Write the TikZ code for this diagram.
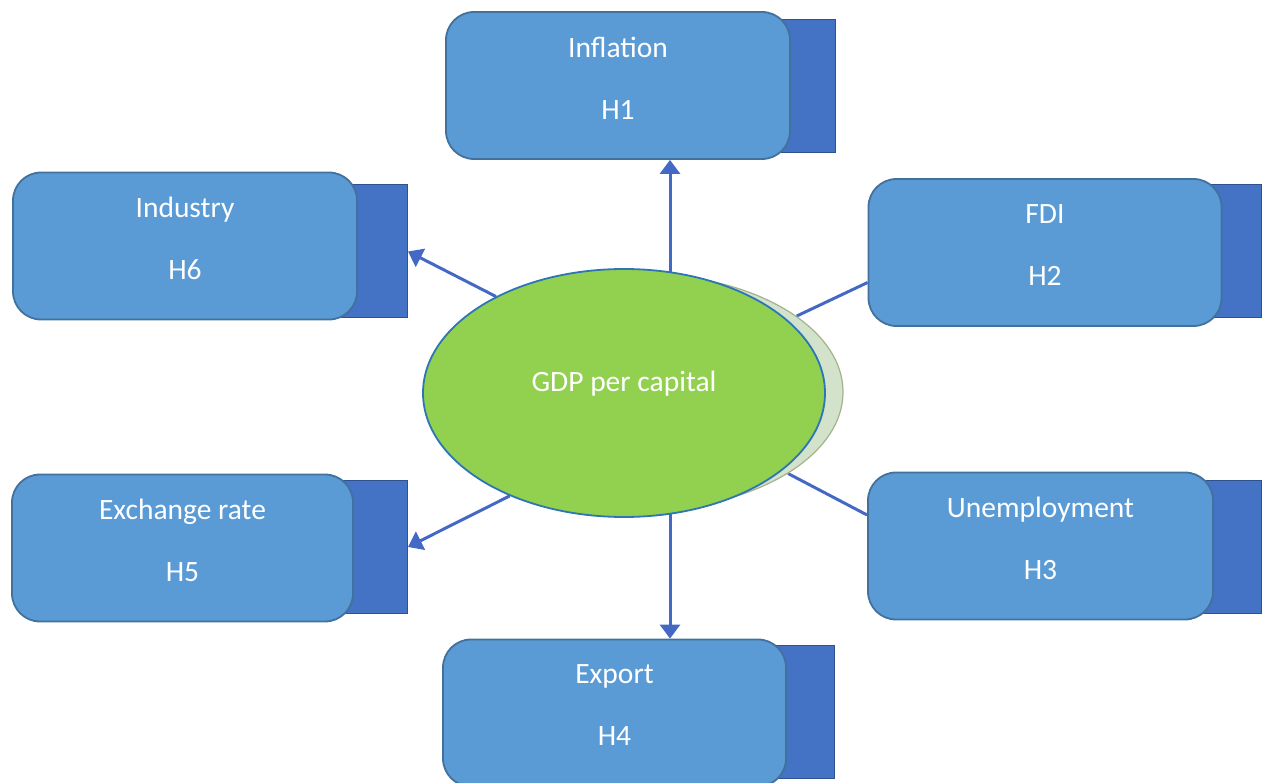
\documentclass[tikz,border=0pt]{standalone}
\usepackage{fontspec}
\setmainfont{Carlito}
\usetikzlibrary{shapes.geometric, arrows.meta, backgrounds}

\definecolor{boxfill}{HTML}{5B9BD5}
\definecolor{boxline}{HTML}{41719C}
\definecolor{backfill}{HTML}{4472C4}
\definecolor{backline}{HTML}{2F528F}
\definecolor{linkblue}{HTML}{4469C4}
\definecolor{ellgreen}{HTML}{92D050}
\definecolor{ellline}{HTML}{2E75B6}
\definecolor{shdfill}{HTML}{D2E2CB}
\definecolor{shdline}{HTML}{A3B38C}

\begin{document}
\begin{tikzpicture}[x=1pt, y=-1pt, >={Triangle[length=14pt, width=20pt]},
  front/.style={draw=boxline, line width=1.8pt, fill=boxfill, rounded corners=28pt,
    minimum height=147pt, text=white, align=center,
    font=\fontsize{29.5}{35}\selectfont, text depth=15pt},
  back/.style={draw=backline, line width=1pt, fill=backfill,
    minimum width=150pt, minimum height=133pt, anchor=east},
  link/.style={draw=linkblue, line width=3pt}]
  \useasboundingbox (0,0) rectangle (1267,783);

  % boxes, dark block first
  \node[back] (inflB) at (836,86) {};
  \node[front, minimum width=344pt] (infl) at (618,85.5) {Inflation\\[27pt]H1};
  \node[back] (fdiB) at (1262,251.5) {};
  \node[front, minimum width=353pt] (fdi) at (1045,252.5) {FDI\\[27pt]H2};
  \node[back] (unempB) at (1262,547) {};
  \node[front, minimum width=345pt] (unemp) at (1040.5,546) {Unemployment\\[27pt]H3};
  \node[back] (exportB) at (835,711.5) {};
  \node[front, minimum width=343pt] (export) at (614.5,713) {Export\\[27pt]H4};
  \node[back] (exchB) at (408,547) {};
  \node[front, minimum width=341pt] (exch) at (182.5,548) {Exchange rate\\[27pt]H5};
  \node[back] (indusB) at (408,251.5) {};
  \node[front, minimum width=344pt] (indus) at (185,246) {Industry\\[27pt]H6};

  % centre
  \node[ellipse, draw=shdline, line width=1.2pt, fill=shdfill,
    minimum width=404pt, minimum height=236pt] (shd) at (641,392) {};
  \node[ellipse, draw=ellline, line width=1.8pt, fill=ellgreen,
    minimum width=402pt, minimum height=248pt, text=white,
    font=\fontsize{29.5}{35}\selectfont, text depth=24pt] (ell) at (624,393) {GDP per capital};

  \begin{scope}[on background layer]
    \coordinate (inflTip) at ([xshift=52pt]infl.south);
    \coordinate (exportTip) at ([xshift=55.5pt]export.north);
    \draw[link, ->] (inflTip |- ell.center) -- (inflTip);
    \draw[link, ->] (exportTip |- ell.center) -- (exportTip);
    \draw[link, ->] (ell.143) -- (indusB.east);
    \draw[link, ->] (ell.222) -- (exchB.east);
    \draw[link] (shd.26) -- ([yshift=-30pt]fdi.west);
    \draw[link] (shd.-29) -- ([yshift=31pt]unemp.west);
  \end{scope}
\end{tikzpicture}
\end{document}
